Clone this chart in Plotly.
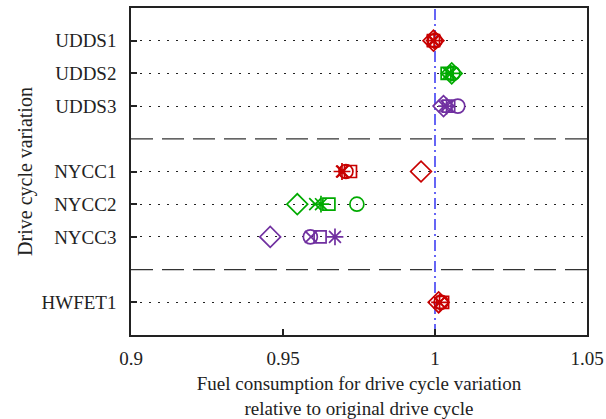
import plotly.graph_objects as go

# ---- data ----
categories = ["UDDS1", "UDDS2", "UDDS3", "NYCC1", "NYCC2", "NYCC3", "HWFET1"]
groups = ["UDDS", "UDDS", "UDDS", "NYCC", "NYCC", "NYCC", "HWFET"]
variant_idx = [1, 2, 3, 1, 2, 3, 1]

vals_circle   = [1.0000, 1.0059, 1.0075, 0.9707, 0.9743, 0.9590, 1.0020]
vals_square   = [0.9995, 1.0040, 1.0045, 0.9722, 0.9651, 0.9622, 1.0025]
vals_diamond  = [0.9995, 1.0055, 1.0028, 0.9954, 0.9547, 0.9458, 1.0012]
vals_x        = [0.9993, 1.0045, 1.0030, 0.9697, 0.9606, 0.9592, 1.0015]
vals_asterisk = [0.9997, 1.0052, 1.0038, 0.9694, 0.9625, 0.9671, 1.0015]

x_ticks = [0.9, 0.95, 1.0, 1.05]
x_tick_labels = ["0.9", "0.95", "1", "1.05"]
reference_value = 1.0

# ---- derived positions (gap between groups) ----
ypos = []
separators = []
pos = 0
prev = None
for g in groups:
    if prev is not None and g != prev:
        pos += 1
        separators.append(pos)
    pos += 1
    ypos.append(pos)
    prev = g
y_max = pos + 1

palette = {1: "#c80000", 2: "#00aa00", 3: "#7030a0"}
colors = [palette[v] for v in variant_idx]

font_family = "Liberation Serif, Times New Roman, serif"

fig = go.Figure()

series = [
    ("circle-open", vals_circle, 14),
    ("square-open", vals_square, 12),
    ("diamond-open", vals_diamond, 16),
    ("x-thin-open", vals_x, 12),
    ("asterisk-open", vals_asterisk, 14),
]
for sym, vals, size in series:
    fig.add_trace(go.Scatter(
        x=vals, y=ypos, mode="markers",
        marker=dict(symbol=sym, size=size, color=colors,
                    line=dict(color=colors, width=1.7)),
        showlegend=False, cliponaxis=False,
    ))

# group separators (long dashes)
for s in separators:
    fig.add_shape(type="line", xref="paper", x0=0, x1=1, yref="y", y0=s, y1=s,
                  line=dict(color="#333333", width=1.2, dash="22px,9px"), layer="below")

# reference line
fig.add_shape(type="line", xref="x", x0=reference_value, x1=reference_value,
              yref="paper", y0=0, y1=1,
              line=dict(color="#0000ee", width=1.2, dash="11px,4px,2px,4px"), layer="below")

fig.update_layout(
    width=606, height=419,
    margin=dict(l=131, r=19, t=8, b=84),
    paper_bgcolor="white", plot_bgcolor="white",
    font=dict(family=font_family, size=19, color="#222222"),
)
fig.update_xaxes(
    range=[0.9, 1.05], tickvals=x_ticks, ticktext=x_tick_labels,
    ticks="inside", ticklen=6, tickwidth=1.5, tickcolor="#222222",
    showline=True, linecolor="#222222", linewidth=1.5, mirror=True,
    showgrid=False, zeroline=False, ticklabelstandoff=5, automargin=False,
    tickfont=dict(size=19),
    title=dict(text="Fuel consumption for drive cycle variation<br>relative to original drive cycle",
               font=dict(size=19), standoff=10),
)
fig.update_yaxes(
    range=[y_max, 0], tickvals=ypos, ticktext=categories,
    ticks="inside", ticklen=6, tickwidth=1.5, tickcolor="#222222",
    showline=True, linecolor="#222222", linewidth=1.5, mirror=True,
    showgrid=True, gridcolor="#222222", gridwidth=1.3, griddash="2px,7px",
    zeroline=False, ticklabelstandoff=9, automargin=False,
    tickfont=dict(size=19),
    title=dict(text="Drive cycle variation", font=dict(size=20), standoff=4),
)

fig.write_html("out.html")
